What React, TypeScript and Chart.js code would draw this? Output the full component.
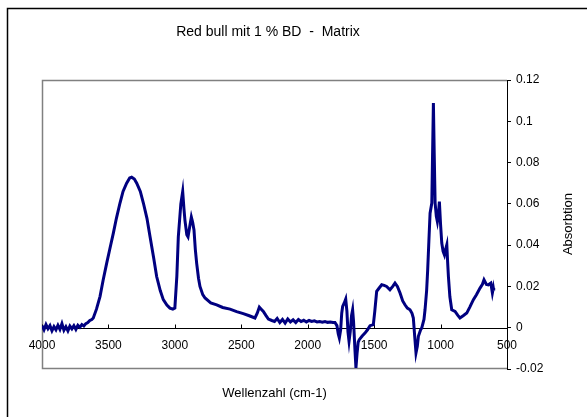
import React, { useEffect, useRef } from "react";
import { Chart, registerables } from "chart.js";

Chart.register(...registerables);

const chartTitle = "Red bull mit 1 % BD  -  Matrix";
const xTitle = "Wellenzahl (cm-1)";
const yTitle = "Absorbtion";

const wavenumbers = [
  4000, 3985, 3970, 3955, 3940, 3925, 3910, 3895, 3880, 3865, 3850, 3835, 3820, 3805, 3790, 3775,
  3760, 3745, 3730, 3715, 3700, 3685, 3670, 3655, 3640, 3625, 3614, 3590, 3563, 3540, 3513, 3490,
  3463, 3440, 3413, 3390, 3363, 3340, 3325, 3305, 3287, 3260, 3237, 3210, 3187, 3160, 3137, 3110,
  3087, 3060, 3037, 3015, 3000, 2985, 2974, 2955, 2941, 2932, 2924, 2910, 2901, 2888, 2876, 2866,
  2856, 2846, 2836, 2822, 2811, 2790, 2773, 2730, 2685, 2640, 2585, 2535, 2485, 2440, 2397, 2380,
  2364, 2350, 2334, 2315, 2296, 2270, 2250, 2230, 2210, 2190, 2170, 2150, 2130, 2110, 2090, 2070,
  2050, 2030, 2010, 1990, 1970, 1950, 1930, 1910, 1890, 1870, 1850, 1830, 1810, 1795, 1780, 1770,
  1762, 1752, 1744, 1737, 1725, 1714, 1705, 1697, 1689, 1680, 1670, 1662, 1655, 1645, 1637, 1628,
  1620, 1612, 1590, 1569, 1550, 1531, 1506, 1495, 1481, 1465, 1443, 1425, 1406, 1381, 1360, 1343,
  1325, 1305, 1285, 1268, 1250, 1230, 1215, 1205, 1195, 1185, 1175, 1167, 1150, 1142, 1125, 1117,
  1105, 1097, 1088, 1079, 1066, 1060, 1054, 1048, 1041, 1032, 1024, 1016, 1009, 1000, 991, 981,
  971, 962, 953, 947, 941, 930, 916, 891, 870, 854, 830, 803, 780, 753, 730, 703,
  685, 673, 655, 640, 622, 610, 603, 600,
];

const absorbance = [
  0.001, -0.001, 0.0015, -0.0005, 0.001, -0.0015, 0.0005, -0.001, 0.0012, -0.0008, 0.002, -0.0012, 0.0005, -0.0015, 0.0008, -0.0005,
  0.001, -0.0008, 0.0012, 0.0002, 0.0015, 0.0008, 0.002, 0.0025, 0.0035, 0.004, 0.0047, 0.009, 0.0152, 0.023, 0.0313, 0.038,
  0.0458, 0.053, 0.0604, 0.066, 0.07, 0.0725, 0.0729, 0.072, 0.07, 0.066, 0.0604, 0.053, 0.0442, 0.034, 0.0248, 0.018,
  0.0136, 0.011, 0.0095, 0.009, 0.0095, 0.025, 0.044, 0.06, 0.066, 0.058, 0.052, 0.045, 0.044, 0.049, 0.0536, 0.051,
  0.0474, 0.038, 0.0313, 0.024, 0.02, 0.016, 0.0144, 0.012, 0.0111, 0.0098, 0.009, 0.0078, 0.0068, 0.0058, 0.0047, 0.007,
  0.01, 0.009, 0.0079, 0.006, 0.0042, 0.0035, 0.003, 0.0045, 0.0025, 0.004, 0.0022, 0.0042, 0.0028, 0.0038, 0.0025, 0.004,
  0.003, 0.0036, 0.0028, 0.0035, 0.003, 0.0033, 0.0028, 0.003, 0.0027, 0.003, 0.0026, 0.0028, 0.0025, 0.0025, 0.001, -0.003,
  -0.005, -0.001, 0.007, 0.0103, 0.012, 0.0139, 0.008, -0.002, -0.0066, -0.002, 0.006, 0.0087, 0.003, -0.01, -0.0195, -0.012,
  -0.007, -0.0058, -0.004, -0.0026, -0.001, 0.001, 0.0015, 0.008, 0.0176, 0.019, 0.0208, 0.0205, 0.02, 0.0184, 0.02, 0.0216,
  0.02, 0.0168, 0.013, 0.0111, 0.0095, 0.0087, 0.007, 0.0047, -0.004, -0.0122, -0.009, -0.0042, -0.001, -0.0002, 0.004, 0.0087,
  0.018, 0.028, 0.042, 0.0555, 0.0604, 0.085, 0.1088, 0.085, 0.0604, 0.054, 0.0514, 0.055, 0.0611, 0.05, 0.041, 0.037,
  0.0353, 0.038, 0.0402, 0.032, 0.0248, 0.015, 0.0087, 0.0079, 0.006, 0.0047, 0.0058, 0.0071, 0.01, 0.0136, 0.016, 0.0192,
  0.021, 0.0232, 0.021, 0.0208, 0.0216, 0.0168, 0.0192, 0.018,
];

const xTickValues = [4000, 3500, 3000, 2500, 2000, 1500, 1000, 500];
const yTickValues = [-0.02, 0, 0.02, 0.04, 0.06, 0.08, 0.1, 0.12];

const FONT = "'Liberation Sans', Arial, sans-serif";

const decorPlugin = {
  id: "decor",
  beforeDatasetsDraw(chart: any) {
    const ctx = chart.ctx;
    const { left, right, top, bottom } = chart.chartArea;
    ctx.save();
    // outer frame
    ctx.strokeStyle = "#000";
    ctx.lineWidth = 1.5;
    ctx.beginPath();
    ctx.moveTo(7.5, 420);
    ctx.lineTo(7.5, 8.5);
    ctx.lineTo(600, 8.5);
    ctx.stroke();
    // plot border
    ctx.strokeStyle = "#808080";
    ctx.lineWidth = 1.5;
    ctx.beginPath();
    ctx.moveTo(right, top + 0.5);
    ctx.lineTo(left + 0.5, top + 0.5);
    ctx.lineTo(left + 0.5, bottom - 0.5);
    ctx.lineTo(right, bottom - 0.5);
    ctx.stroke();
    // x axis at y = 0
    const xs = chart.scales.x;
    const ys = chart.scales.y;
    const y0 = Math.round(ys.getPixelForValue(0)) + 0.5;
    ctx.strokeStyle = "#000";
    ctx.lineWidth = 1;
    ctx.beginPath();
    ctx.moveTo(left, y0);
    ctx.lineTo(right, y0);
    for (const v of xTickValues) {
      const px = Math.round(xs.getPixelForValue(v)) + 0.5;
      ctx.moveTo(px, y0);
      ctx.lineTo(px, y0 - 4);
    }
    ctx.stroke();
    // titles
    ctx.fillStyle = "#000";
    ctx.textAlign = "center";
    ctx.textBaseline = "middle";
    ctx.font = `14px ${FONT}`;
    ctx.fillText(chartTitle, 268, 32);
    ctx.font = `13px ${FONT}`;
    ctx.fillText(xTitle, (left + right) / 2, 393);
    ctx.translate(568, 224);
    ctx.rotate(-Math.PI / 2);
    ctx.fillText(yTitle, 0, 0);
    ctx.restore();
  },
};

export default function App() {
  const canvasRef = useRef<HTMLCanvasElement | null>(null);

  useEffect(() => {
    document.body.style.margin = "0";
    const canvas = canvasRef.current;
    if (!canvas) return;
    const points = wavenumbers.map((w, i) => ({ x: w, y: absorbance[i] }));
    const chart = new Chart(canvas, {
      type: "line",
      data: {
        datasets: [
          {
            data: points,
            borderColor: "#000080",
            borderWidth: 3,
            pointRadius: 0,
            tension: 0,
            fill: false,
          },
        ],
      },
      options: {
        animation: false,
        responsive: false,
        devicePixelRatio: 1,
        layout: { padding: { top: 80, left: 42, bottom: 48, right: 0 } },
        plugins: {
          legend: { display: false },
          title: { display: false },
          tooltip: { enabled: false },
        },
        scales: {
          x: {
            type: "linear",
            reverse: true,
            min: 500,
            max: 4000,
            position: { y: 0 } as any,
            afterFit: (s: any) => {
              s.height = 0;
            },
            afterBuildTicks: (s: any) => {
              s.ticks = xTickValues.map((v) => ({ value: v }));
            },
            grid: { display: false, drawTicks: false },
            border: { display: false },
            ticks: {
              color: "#000",
              font: { family: FONT, size: 12 },
              padding: 11,
              maxRotation: 0,
              autoSkip: false,
              callback: (v: any) => String(v),
            },
          },
          y: {
            type: "linear",
            position: "right",
            min: -0.02,
            max: 0.12,
            afterFit: (s: any) => {
              s.width = 80;
            },
            afterBuildTicks: (s: any) => {
              s.ticks = yTickValues.map((v) => ({ value: v }));
            },
            grid: {
              drawOnChartArea: false,
              drawTicks: true,
              tickLength: 4,
              tickColor: "#000",
            },
            border: { display: true, color: "#000", width: 1 },
            ticks: {
              color: "#000",
              font: { family: FONT, size: 12 },
              padding: 5,
              callback: (v: any) => String(Number(Number(v).toFixed(2))),
            },
          },
        },
      },
      plugins: [decorPlugin],
    });
    return () => chart.destroy();
  }, []);

  return (
    <div style={{ position: "relative", width: 587, height: 417, overflow: "hidden" }}>
      <canvas ref={canvasRef} width={587} height={417} style={{ display: "block" }} />
    </div>
  );
}
